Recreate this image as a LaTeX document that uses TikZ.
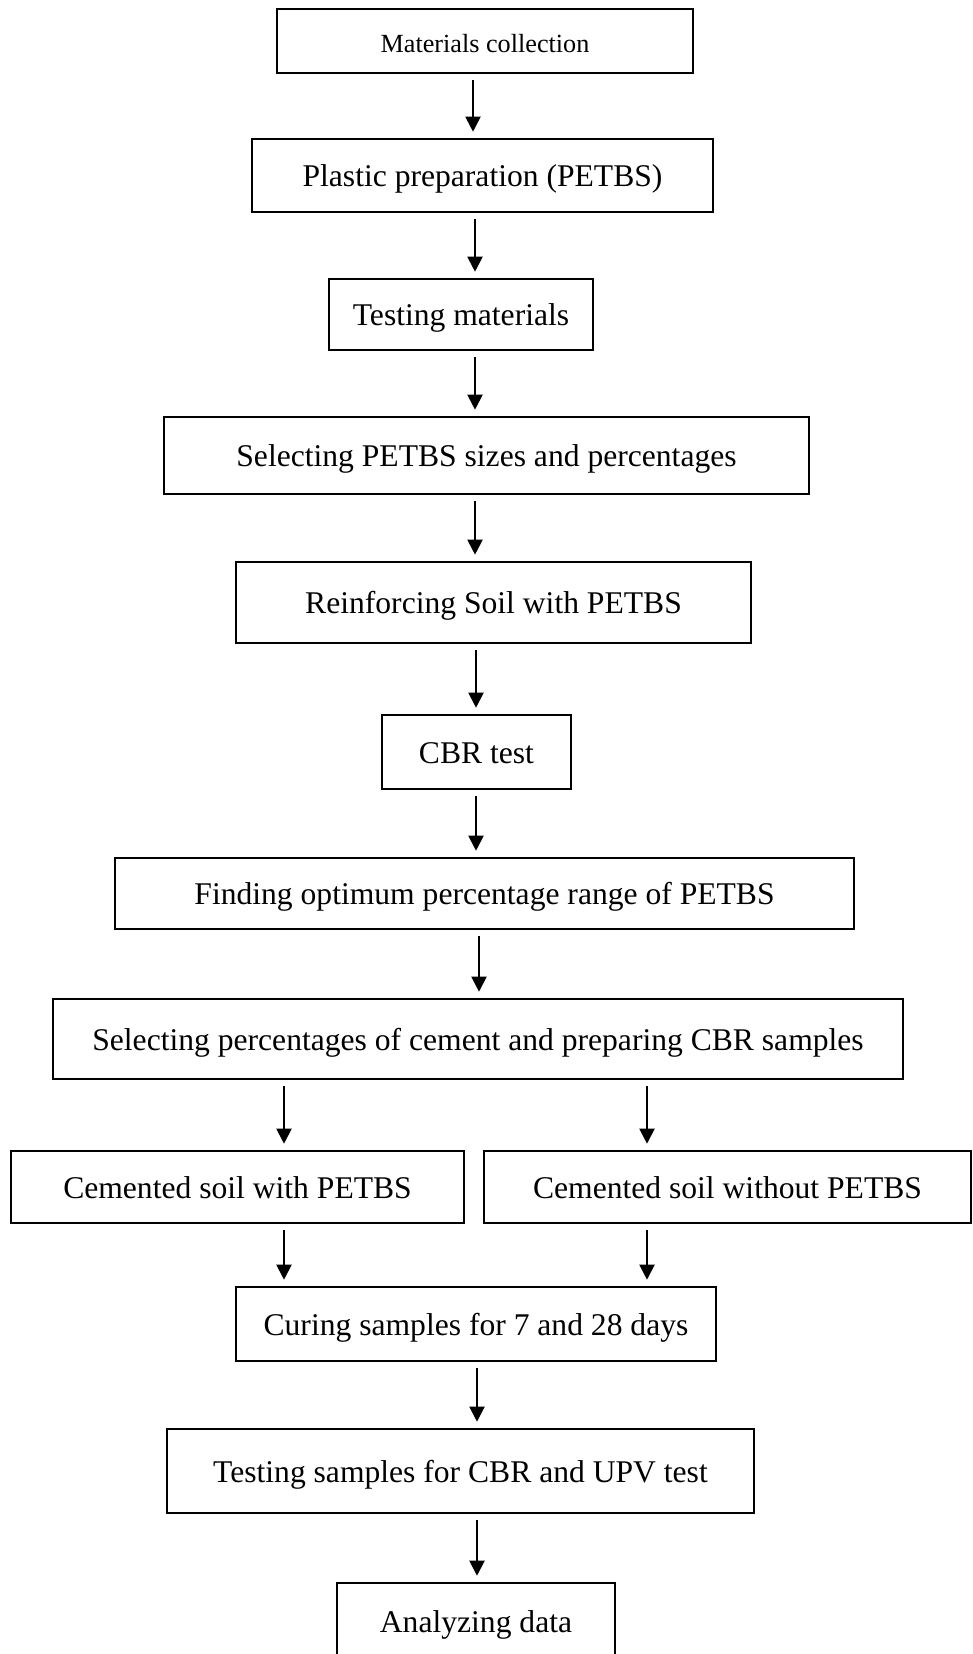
\documentclass[tikz,border=0pt]{standalone}
\usepackage{fontspec}
\setmainfont{Liberation Serif}
\usetikzlibrary{arrows.meta}
\tikzset{
  stage/.style={draw, line width=1.3pt, inner sep=0pt,
    text height=1.1em, text depth=0pt,
    font=\fontsize{15.8}{19}\selectfont},
  flow/.style={-{Triangle[length=7.5pt,width=7.5pt]}, line width=1pt,
    shorten <=3pt, shorten >=3pt}
}

\begin{document}
\begin{tikzpicture}[x=0.5pt, y=-0.5pt]
  \def\Xa{473}
  \def\Xb{475}
  \def\Xc{476}
  \def\Xd{479}
  \def\Xe{477}
  \def\Xl{284}
  \def\Xr{647}
  \useasboundingbox (0,0) rectangle (973,1654);

        \node[stage, minimum width=208pt, minimum height=32pt,
              font=\fontsize{13.1}{16}\selectfont] (collect) at (485, 41) {Materials collection};
        \node[stage, minimum width=230.5pt, minimum height=36.5pt] (plastic) at (482.5, 175.5) {Plastic preparation (PETBS)};
        \node[stage, minimum width=132pt, minimum height=35.5pt] (testmat) at (461, 314.5) {Testing materials};
        \node[stage, minimum width=322.5pt, minimum height=38.5pt] (sizes) at (486.5, 455.5) {Selecting PETBS sizes and percentages};
        \node[stage, minimum width=257.5pt, minimum height=40.5pt] (reinf) at (493.5, 602.5) {Reinforcing Soil with PETBS};
        \node[stage, minimum width=94.5pt, minimum height=37pt] (cbr) at (476.5, 752) {CBR test};
        \node[stage, minimum width=369.5pt, minimum height=35.5pt] (optim) at (484.5, 893.5) {Finding optimum percentage range of PETBS};
        \node[stage, minimum width=425pt, minimum height=40pt] (cement) at (478, 1039) {Selecting percentages of cement and preparing CBR samples};

        \node[stage, minimum width=226.5pt, minimum height=36pt] (withp) at (237.5, 1187) {Cemented soil with PETBS};
        \node[stage, minimum width=243.5pt, minimum height=36pt] (withoutp) at (727.5, 1187) {Cemented soil without PETBS};

        \node[stage, minimum width=240pt, minimum height=37pt] (curing) at (476, 1324) {Curing samples for 7 and 28 days};
        \node[stage, minimum width=293.5pt, minimum height=42pt] (testsam) at (460.5, 1471) {Testing samples for CBR and UPV test};
        \node[stage, minimum width=139pt, minimum height=38pt] (analyse) at (476, 1621) {Analyzing data};

	\draw[flow] (collect.south -| \Xa,0) -- (plastic.north -| \Xa,0);
	\draw[flow] (plastic.south -| \Xb,0) -- (testmat.north -| \Xb,0);
	\draw[flow] (testmat.south -| \Xb,0) -- (sizes.north -| \Xb,0);
	\draw[flow] (sizes.south -| \Xb,0) -- (reinf.north -| \Xb,0);
	\draw[flow] (reinf.south -| \Xc,0) -- (cbr.north -| \Xc,0);
	\draw[flow] (cbr.south -| \Xc,0) -- (optim.north -| \Xc,0);
	\draw[flow] (optim.south -| \Xd,0) -- (cement.north -| \Xd,0);

	\draw[flow] (cement.south -| \Xl,0) -- (withp.north -| \Xl,0);
	\draw[flow] (cement.south -| \Xr,0) -- (withoutp.north -| \Xr,0);
	\draw[flow] (withp.south -| \Xl,0) -- (curing.north -| \Xl,0);
	\draw[flow] (withoutp.south -| \Xr,0) -- (curing.north -| \Xr,0);

	\draw[flow] (curing.south -| \Xe,0) -- (testsam.north -| \Xe,0);
	\draw[flow] (testsam.south -| \Xe,0) -- (analyse.north -| \Xe,0);
\end{tikzpicture}
\end{document}
